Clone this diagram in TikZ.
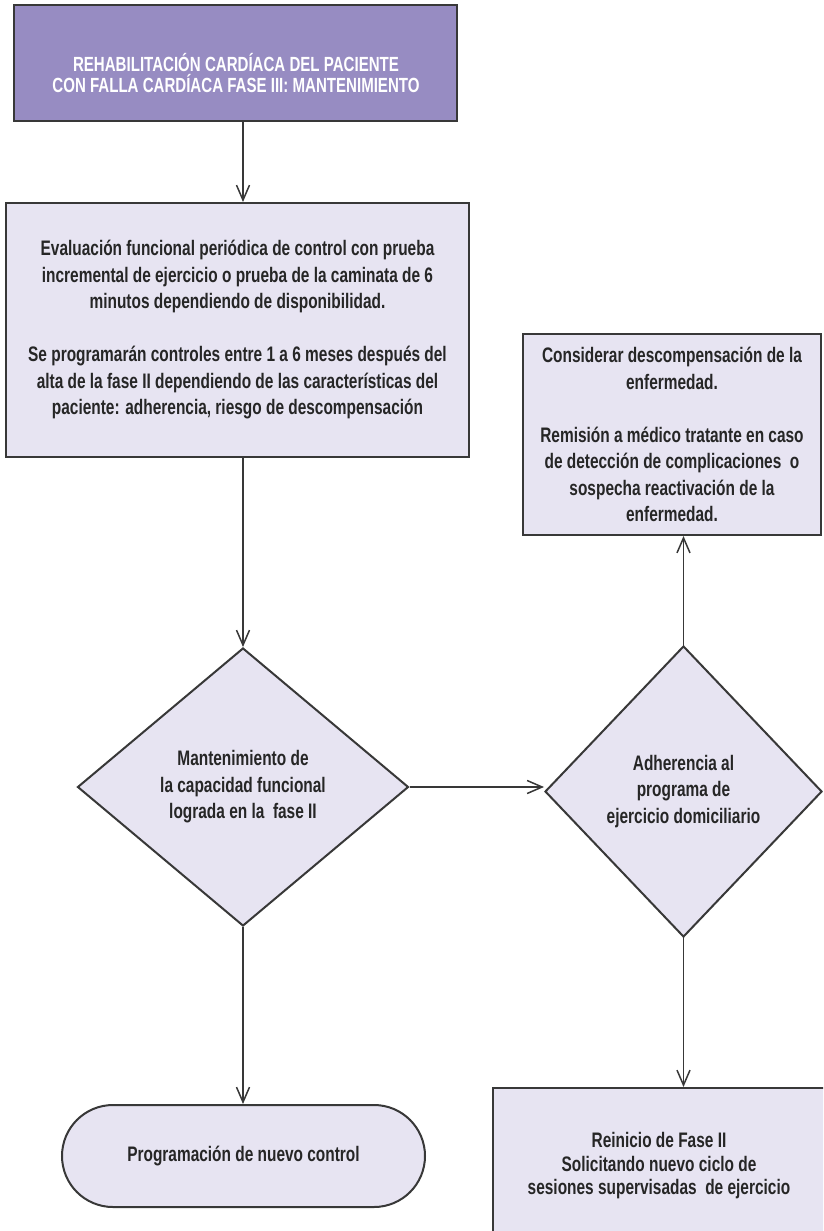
\documentclass[tikz,border=0pt]{standalone}
\usepackage{fontspec}
\setmainfont{Liberation Sans}[FakeStretch=0.735]
\usetikzlibrary{shapes.geometric,arrows.meta}
\definecolor{hdr}{HTML}{978CC2}
\definecolor{lite}{HTML}{E7E4F2}
\definecolor{edge}{HTML}{383838}
\definecolor{ink}{HTML}{262626}
\begin{document}
\begin{tikzpicture}[x=1pt,y=-1pt,
  txt/.style={align=center,text=ink,font=\fontsize{21}{26.5}\selectfont\bfseries},
  box/.style={txt,draw=edge,line width=2pt,fill=lite,inner sep=0pt},
  hbox/.style={draw=edge,line width=2pt,fill=hdr,inner sep=0pt},
  htxt/.style={align=center,text=white,font=\fontsize{20.5}{21.7}\selectfont\bfseries},
  dec/.style={box,shape=diamond},
  arr/.style={draw=edge,line width=1.5pt,-{Straight Barb[length=15pt,width=13pt,line width=1.5pt]}}
]
\useasboundingbox (0,0) rectangle (823,1231);
\clip (0,0) rectangle (823,1231);
\fill[white] (0,0) rectangle (823,1231);

\node[hbox,minimum width=443pt,minimum height=116pt] (top) at (235.5,63) {};
\node[htxt] (toptxt) at (236,73) {REHABILITACIÓN CARDÍACA DEL PACIENTE\\CON FALLA CARDÍACA FASE III: MANTENIMIENTO};

\node[box,minimum width=463pt,minimum height=254pt] (eval) at (237.5,330)
 {Evaluación funcional periódica de control con prueba\\
  incremental de ejercicio o prueba de la caminata de 6\\
  minutos dependiendo de disponibilidad.\\[26.5pt]
  Se programarán controles entre 1 a 6 meses después del\\
  alta de la fase II dependiendo de las características del\\
  paciente: adherencia, riesgo de descompensación};

\node[box,minimum width=298pt,minimum height=201pt] (cons) at (672,434.5)
 {Considerar descompensación de la\\
  enfermedad.\\[26.5pt]
  Remisión a médico tratante en caso\\
  de detección de complicaciones\ \ o\\
  sospecha reactivación de la\\
  enfermedad.};

\node[dec,minimum width=331pt,minimum height=278pt] (mant) at (243,787)
 {Mantenimiento de\\la capacidad funcional\\lograda en la\ \ fase II};

\node[dec,minimum width=277pt,minimum height=291pt] (adh) at (683.5,791.5)
 {Adherencia al\\programa de\\ejercicio domiciliario};

\node[box,rounded corners=51pt,minimum width=363pt,minimum height=102pt] (prog) at (243.5,1156)
 {Programación de nuevo control};

\node[box,minimum width=332pt,minimum height=156pt,font=\fontsize{21}{23.5}\selectfont\bfseries] (rein) at (659,1166)
 {Reinicio de Fase II\\Solicitando nuevo ciclo de\\sesiones supervisadas\ \ de ejercicio};

\draw[arr] (top.south -| mant.north) -- (eval.north -| mant.north);
\draw[arr] (eval.south -| mant.north) -- (mant.north);
\draw[arr] (mant.east) -- (mant.east -| adh.west);
\draw[arr] (adh.north) -- (adh.north |- cons.south);
\draw[arr] (mant.south) -- (mant.south |- prog.north);
\draw[arr] (adh.south) -- (adh.south |- rein.north);
\end{tikzpicture}
\end{document}
